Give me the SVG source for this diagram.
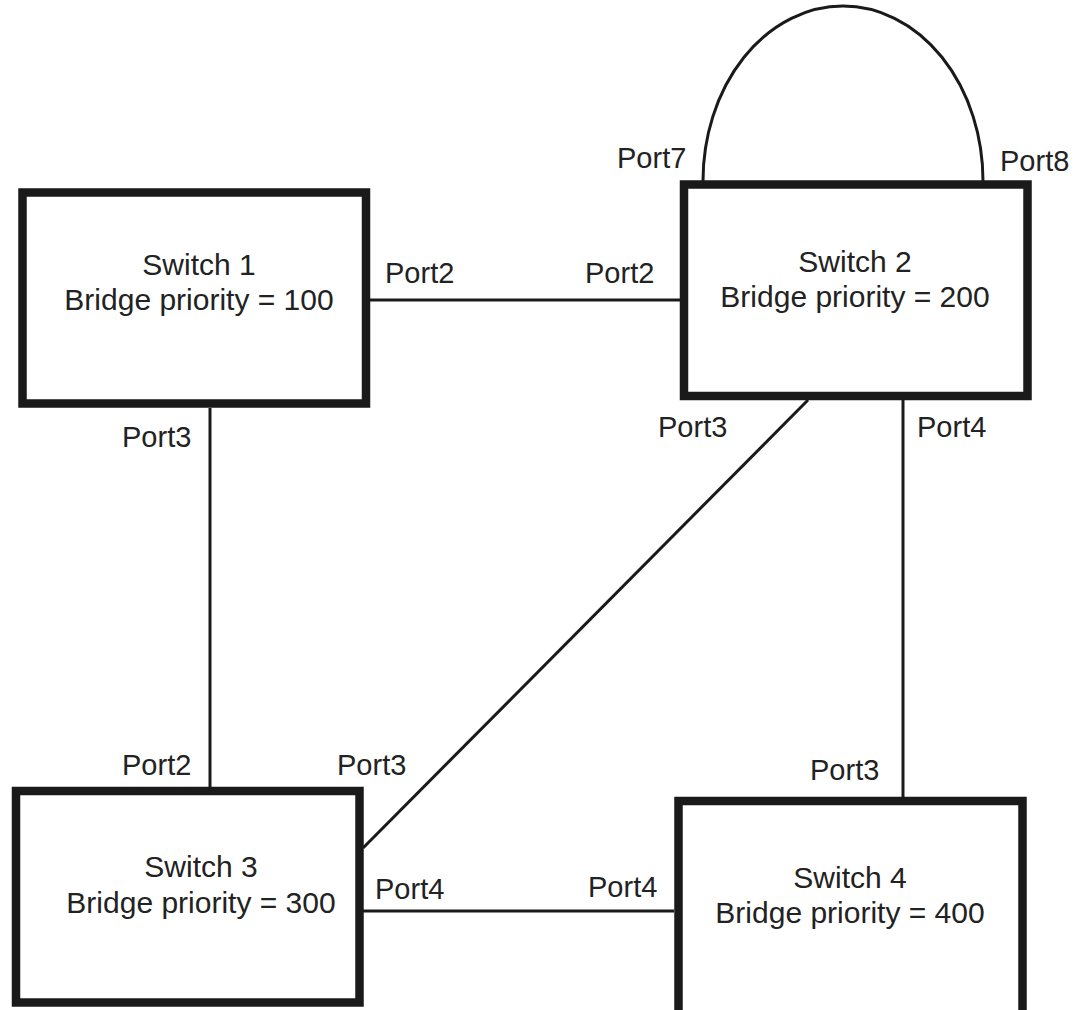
<svg xmlns="http://www.w3.org/2000/svg" width="1082" height="1010" viewBox="0 0 1082 1010">
<style>
.box{fill:#fff;stroke:#1a1a1a;stroke-width:8.5}
.con{fill:none;stroke:#1a1a1a;stroke-width:3}
.sw{font-family:"Liberation Sans",Arial,sans-serif;font-size:30px;fill:#222;text-anchor:middle}
.pt{font-family:"Liberation Sans",Arial,sans-serif;font-size:29px;fill:#222}
</style>
<rect width="1082" height="1010" fill="#fff"/>
<g id="connectors">
<line class="con" x1="370" y1="300" x2="680" y2="300"/>
<line class="con" x1="210" y1="408" x2="210" y2="787"/>
<line class="con" x1="808" y1="400" x2="363" y2="848"/>
<line class="con" x1="903" y1="400" x2="903" y2="797"/>
<line class="con" x1="363" y1="911" x2="674" y2="911"/>
<path class="con" d="M703,181 A140,175 0 0 1 983,181"/>
</g>
<g id="switch1">
<rect class="box" x="22.5" y="192.5" width="343.5" height="211"/>
<text class="sw" x="199" y="275">Switch 1</text>
<text class="sw" x="199" y="310">Bridge priority = 100</text>
</g>
<g id="switch2">
<rect class="box" x="684" y="184.5" width="343.5" height="211.5"/>
<text class="sw" x="855" y="272">Switch 2</text>
<text class="sw" x="855" y="307">Bridge priority = 200</text>
</g>
<g id="switch3">
<rect class="box" x="16" y="791" width="343.5" height="211.5"/>
<text class="sw" x="201" y="877">Switch 3</text>
<text class="sw" x="201" y="913">Bridge priority = 300</text>
</g>
<g id="switch4">
<rect class="box" x="678.5" y="801" width="344" height="215"/>
<text class="sw" x="850" y="888">Switch 4</text>
<text class="sw" x="850" y="923">Bridge priority = 400</text>
</g>
<g id="port-labels">
<text class="pt" x="617" y="168">Port7</text>
<text class="pt" x="1000" y="171">Port8</text>
<text class="pt" x="385" y="283">Port2</text>
<text class="pt" x="585" y="283">Port2</text>
<text class="pt" x="122" y="447">Port3</text>
<text class="pt" x="658" y="437">Port3</text>
<text class="pt" x="917" y="437">Port4</text>
<text class="pt" x="122" y="775">Port2</text>
<text class="pt" x="337" y="775">Port3</text>
<text class="pt" x="810" y="780">Port3</text>
<text class="pt" x="375" y="899">Port4</text>
<text class="pt" x="588" y="897">Port4</text>
</g>
</svg>
